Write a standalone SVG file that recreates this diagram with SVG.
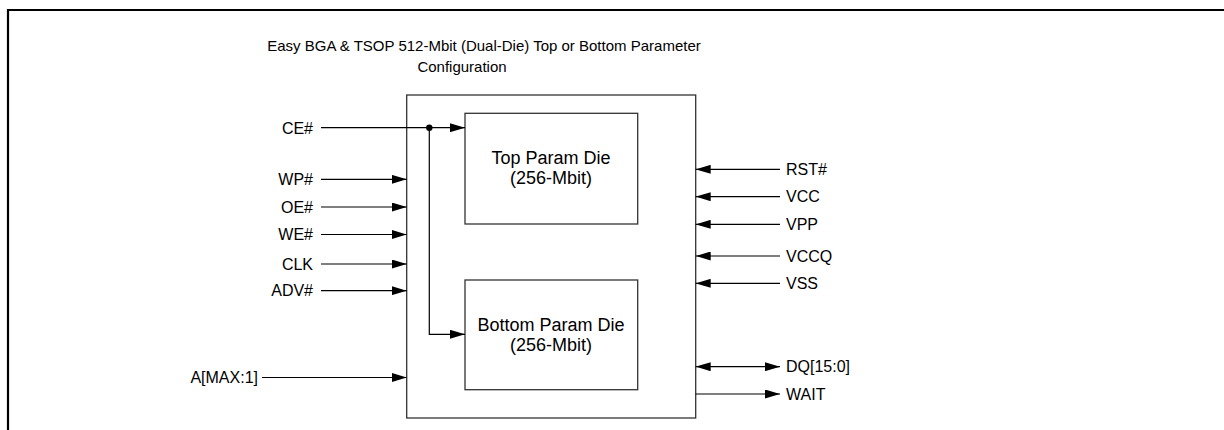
<svg xmlns="http://www.w3.org/2000/svg" width="1224" height="430" viewBox="0 0 1224 430">
<style>
text{font-family:"Liberation Sans",Arial,sans-serif;fill:#000}
.t{font-size:15px}
.lbl{font-size:16px}
.die{font-size:18px}
.box{fill:#fff;stroke:#333;stroke-width:1.3}
.wire{stroke:#000;stroke-width:1.2;fill:none}
</style>
<defs>
<marker id="ah" viewBox="0 0 15 9" refX="15" refY="4.5" markerWidth="15" markerHeight="9" markerUnits="userSpaceOnUse" orient="auto-start-reverse">
<path d="M0,0 L15,4.5 L0,9 Z" fill="#000"/>
</marker>
</defs>
<rect width="1224" height="430" fill="#fff"/>
<path d="M8,432 V10 H1226" fill="none" stroke="#000" stroke-width="2.2"/>
<g id="title">
<text class="t" x="484" y="51" text-anchor="middle">Easy BGA &amp; TSOP  512-Mbit (Dual-Die) Top or Bottom Parameter</text>
<text class="t" x="462" y="72" text-anchor="middle">Configuration</text>
</g>
<g id="chip"><rect class="box" x="406.7" y="95" width="289" height="323"/></g>
<g id="topdie"><rect class="box" x="465" y="113.3" width="172.7" height="110.7"/>
<text class="die" x="551" y="164" text-anchor="middle">Top Param Die</text>
<text class="die" x="551" y="183.5" text-anchor="middle">(256-Mbit)</text></g>
<g id="bottomdie"><rect class="box" x="465" y="280" width="172.7" height="109.7"/>
<text class="die" x="551" y="331" text-anchor="middle">Bottom Param Die</text>
<text class="die" x="551" y="350.5" text-anchor="middle">(256-Mbit)</text></g>
<g id="labels-left">
<text class="lbl" x="313" y="133.5" text-anchor="end">CE#</text>
<text class="lbl" x="313" y="185" text-anchor="end">WP#</text>
<text class="lbl" x="313" y="213" text-anchor="end">OE#</text>
<text class="lbl" x="313" y="240" text-anchor="end">WE#</text>
<text class="lbl" x="313" y="270" text-anchor="end">CLK</text>
<text class="lbl" x="313" y="296" text-anchor="end">ADV#</text>
<text class="lbl" x="258" y="383" text-anchor="end">A[MAX:1]</text>
</g>
<g id="labels-right">
<text class="lbl" x="786" y="175">RST#</text>
<text class="lbl" x="786" y="202">VCC</text>
<text class="lbl" x="786" y="230">VPP</text>
<text class="lbl" x="786" y="262">VCCQ</text>
<text class="lbl" x="786" y="289">VSS</text>
<text class="lbl" x="786" y="372">DQ[15:0]</text>
<text class="lbl" x="786" y="400">WAIT</text>
</g>
<g id="connectors">
<path class="wire" d="M321,127.7 H465" marker-end="url(#ah)"/>
<path class="wire" d="M429.3,127.7 V334.3 H465" marker-end="url(#ah)"/>
<circle cx="429.3" cy="127.7" r="3.2" fill="#000"/>
<path class="wire" d="M321,179.3 H406.7" marker-end="url(#ah)"/>
<path class="wire" d="M321,207 H406.7" marker-end="url(#ah)"/>
<path class="wire" d="M321,234.5 H406.7" marker-end="url(#ah)"/>
<path class="wire" d="M321,264 H406.7" marker-end="url(#ah)"/>
<path class="wire" d="M321,290.7 H406.7" marker-end="url(#ah)"/>
<path class="wire" d="M262,377.5 H406.7" marker-end="url(#ah)"/>
<path class="wire" d="M780,169.3 H695.7" marker-end="url(#ah)"/>
<path class="wire" d="M780,196.7 H695.7" marker-end="url(#ah)"/>
<path class="wire" d="M780,224.3 H695.7" marker-end="url(#ah)"/>
<path class="wire" d="M780,256 H695.7" marker-end="url(#ah)"/>
<path class="wire" d="M780,283.3 H695.7" marker-end="url(#ah)"/>
<path class="wire" d="M695.7,366.7 H780" marker-start="url(#ah)" marker-end="url(#ah)"/>
<path class="wire" d="M695.7,394 H780" marker-end="url(#ah)"/>
</g>
</svg>
